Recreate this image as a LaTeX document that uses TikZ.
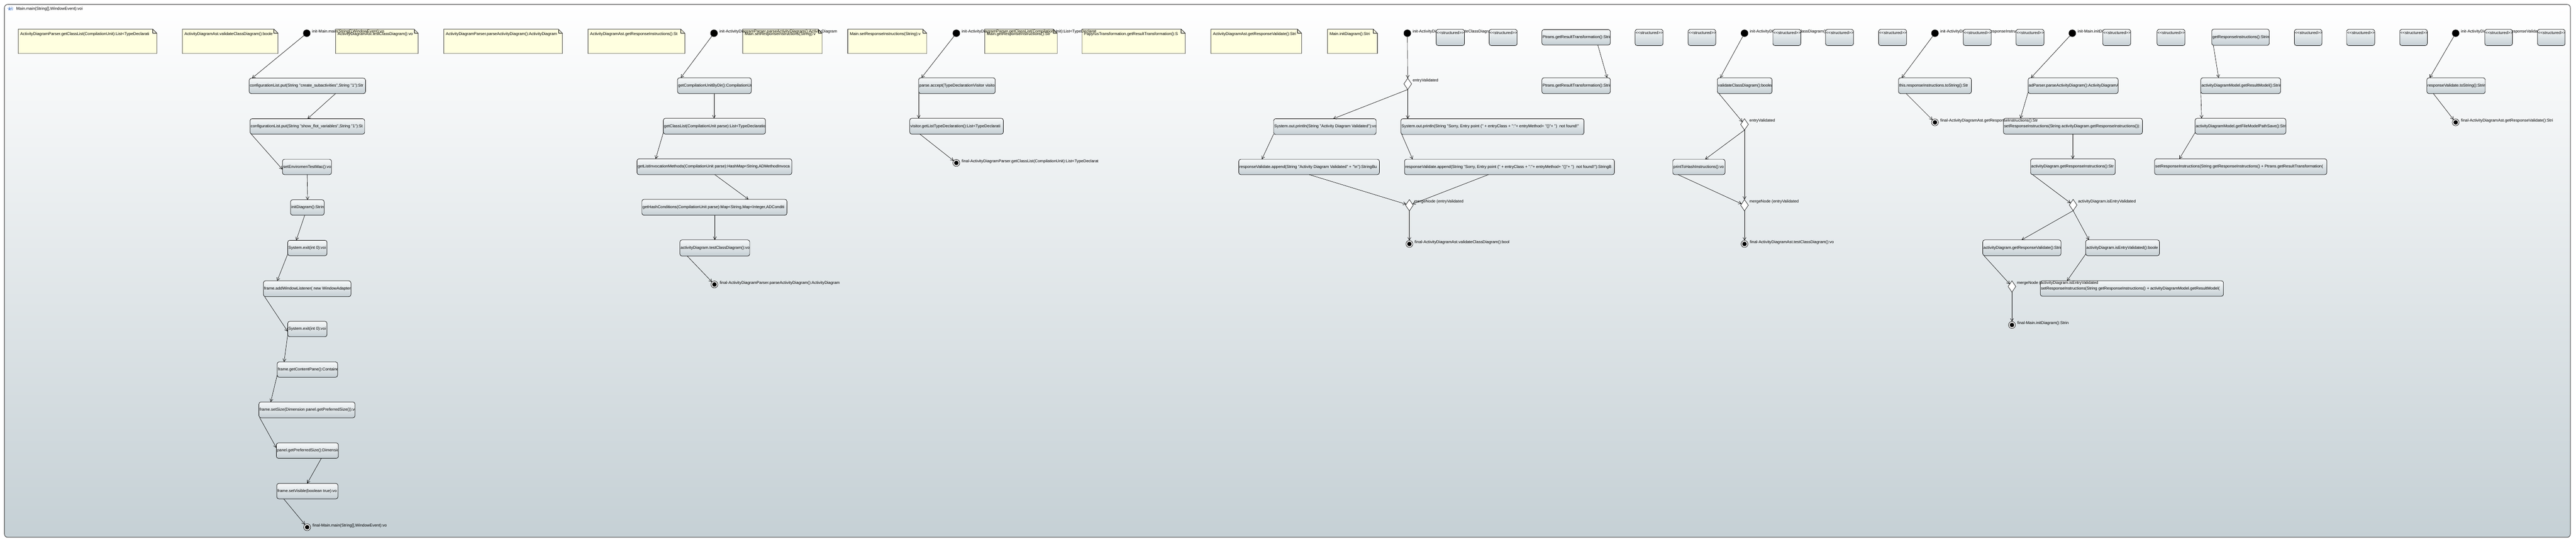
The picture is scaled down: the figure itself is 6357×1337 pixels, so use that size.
\documentclass[tikz,border=0pt]{standalone}
\usepackage{fontspec}
\newfontfamily\uifont{Liberation Sans}
\usetikzlibrary{shapes.geometric,arrows.meta,calc}
\definecolor{bgbot}{HTML}{C5D0D5}
\definecolor{boxtop}{HTML}{F7F9FA}
\definecolor{boxbot}{HTML}{C4CED3}
\definecolor{notefill}{HTML}{FFFFE0}
\definecolor{framecol}{HTML}{3C3C3C}
\definecolor{iconblue}{HTML}{3A6FC4}
\tikzset{
  abox/.style={rectangle, rounded corners=5pt, draw=black, line width=0.9pt, top color=boxtop, bottom color=boxbot, inner sep=0pt, outer sep=0pt},
  btext/.style={font=\uifont\fontsize{10}{12}\selectfont, inner sep=1.5pt, text=black},
  lbl/.style={font=\uifont\fontsize{10}{12}\selectfont, inner sep=0pt, text=black, anchor=west},
  initsty/.style={circle, fill=black, minimum size=18pt, inner sep=0pt, outer sep=0pt},
  finalsty/.style={circle, draw=black, line width=0.9pt, fill=white, minimum size=17pt, inner sep=0pt, outer sep=0pt, path picture={\fill[black] (path picture bounding box.center) circle (5.5pt);}},
  decsty/.style={diamond, draw=black, line width=0.8pt, fill=white, minimum width=19pt, minimum height=28pt, inner sep=0pt, outer sep=0pt},
  flow/.style={draw=black, line width=0.8pt, -{Straight Barb[length=7pt,width=8pt]}},
  notesty/.style={draw=black, line width=0.8pt, fill=notefill},
}
\newcommand{\actbox}[6]{%
  \node[abox, minimum width={(#4-#2)*1pt}, minimum height={(#5-#3)*1pt}] (#1) at ({(#2+#4)/2},{(#3+#5)/2}) {};
  \begin{scope}
    \clip ($(#1.south west)+(1,-1)$) rectangle ($(#1.north east)+(-1,1)$);
    \node[btext, anchor=west] at (#1.west) {#6};
  \end{scope}}
\newcommand{\strbox}[3]{%
  \node[abox, minimum width={(#3-#2)*1pt}, minimum height=40pt] (#1) at ({(#2+#3)/2},92.5) {};
  \begin{scope}
    \clip ($(#1.south west)+(1,-1)$) rectangle ($(#1.north east)+(-1,1)$);
    \node[btext, anchor=west, inner sep=1pt] at ($(#1.north west)+(0,8)$) {<<structured>>};
  \end{scope}}
\newcommand{\anote}[6]{%
  \draw[notesty] (#2,#3) -- (#4-10,#3) -- (#4,#3+10) -- (#4,#5) -- (#2,#5) -- cycle;
  \draw[line width=0.8pt] (#4-10,#3) -- (#4-10,#3+10) -- (#4,#3+10);
  \begin{scope}
    \clip (#2,#3) rectangle (#4-10,#5);
    \node[btext, anchor=west] (#1) at (#2+3.5,#3+12) {#6};
  \end{scope}}
\begin{document}
\begin{tikzpicture}[x=1pt,y=-1pt]
\useasboundingbox (0,0) rectangle (6357,1337);
% frame
\node[draw=framecol, line width=1.2pt, rounded corners=8pt, top color=white, bottom color=bgbot, minimum width=6332pt, minimum height=1315pt, inner sep=0pt, outer sep=0pt] (frame) at (3177,668.5) {};
\node[draw=iconblue, densely dashed, line width=0.6pt, rounded corners=2pt, minimum width=12pt, minimum height=7.5pt, inner sep=0pt] (icon) at (26,21.3) {};
\draw[iconblue, line width=0.6pt] (21.8,19.6) rectangle (25,23);
\draw[iconblue, line width=0.6pt] (28.6,21.3) circle (1.8);
\node[btext, anchor=west] (title) at (38.5,22.7) {Main.main(String[],WindowEvent):voi};
% notes
\anote{n1}{45}{72}{387}{132}{ActivityDiagramParser.getClassList(CompilationUnit):List<TypeDeclarati}
\anote{n2}{450}{72}{686}{132}{ActivityDiagramAst.validateClassDiagram():boole}
\anote{n3}{828}{72}{1032}{132}{ActivityDiagramAst.testClassDiagram():vo}
\anote{n4}{1095}{72}{1388}{132}{ActivityDiagramParser.parseActivityDiagram():ActivityDiagram}
\anote{n5}{1451}{72}{1690}{132}{ActivityDiagramAst.getResponseInstructions():St}
\anote{n6}{1833}{72}{2029}{132}{Main.setResponseInstructions(String):v}
\anote{n7}{2092}{72}{2287}{132}{Main.setResponseInstructions(String):v}
\anote{n8}{2430}{72}{2609}{132}{Main.getResponseInstructions():Str}
\anote{n9}{2670}{72}{2925}{132}{PapyrusTransformation.getResultTransformation():S}
\anote{n10}{2988}{72}{3212}{132}{ActivityDiagramAst.getResponseValidate():Stri}
\anote{n11}{3276}{72}{3399}{132}{Main.initDiagram():Stri}
% activity boxes: Main.main
\actbox{b1}{615}{193}{902}{231}{configurationList.put(String "create\_subactivities",String "1"):Str}
\actbox{b2}{617}{293}{900}{331}{configurationList.put(String "show\_flot\_variables",String "1"):St}
\actbox{b3}{697}{393}{818}{431}{setEnviromenTestMac():vo}
\actbox{b4}{717}{493}{800}{531}{initDiagram():Strin}
\actbox{b5}{710}{593}{807}{631}{System.exit(int 0):voi}
\actbox{b6}{650}{693}{866}{732}{frame.addWindowListener( new WindowAdapter}
\actbox{b7}{710}{793}{807}{831}{System.exit(int 0):voi}
\actbox{b8}{684}{893}{833}{931}{frame.getContentPane():Containe}
\actbox{b9}{639}{992}{876}{1031}{frame.setSize(Dimension panel.getPreferredSize()):vo}
\actbox{b10}{682}{1093}{835}{1131}{panel.getPreferredSize():Dimensio}
\actbox{b11}{683}{1193}{834}{1231}{frame.setVisible(boolean true):vo}
% parseActivityDiagram
\actbox{pb1}{1672}{192}{1854}{231}{getCompilationUnitByDir():CompilationUn}
\actbox{pb2}{1637}{292}{1889}{331}{getClassList(CompilationUnit parse):List<TypeDeclaratio}
\actbox{pb3}{1572}{392}{1954}{431}{getListInvocationMethods(CompilationUnit parse):HashMap<String,ADMethodInvoca}
\actbox{pb4}{1584}{492}{1942}{531}{getHashConditions(CompilationUnit parse):Map<String,Map<Integer,ADConditi}
\actbox{pb5}{1678}{592}{1850}{632}{activityDiagram.testClassDiagram():vo}
% getClassList
\actbox{qb1}{2267}{192}{2456}{231}{parse.accept(TypeDeclarationVisitor visito}
\actbox{qb2}{2245}{292}{2476}{331}{visitor.getListTypeDeclaration():List<TypeDeclarati}
% validateClassDiagram
\actbox{v1}{3143}{293}{3396}{332}{System.out.println(String "Activity Diagram Validated"):vo}
\actbox{v2}{3457}{293}{3909}{332}{System.out.println(String "Sorry, Entry point (" + entryClass + ":"+ entryMethod+ "()"+ ")\ \ not found!"}
\actbox{v3}{3057}{393}{3404}{431}{responseValidate.append(String "Activity Diagram Validated" + "\textbackslash n"):StringBu}
\actbox{v4}{3466}{393}{3984}{431}{responseValidate.append(String "Sorry, Entry point (" + entryClass + ":"+ entryMethod+ "()"+ ")\ \ not found!"):StringB}
% Ptrans / testClassDiagram / getResponseInstructions
\actbox{p1}{3805}{73}{3974}{111}{Ptrans.getResultTransformation():Strin}
\actbox{p2}{3805}{192}{3974}{231}{Ptrans.getResultTransformation():Strin}
\actbox{t1}{4238}{192}{4373}{231}{validateClassDiagram():boolea}
\actbox{t2}{4128}{393}{4257}{431}{printToHashInstructions():vo}
\actbox{r1}{4685}{192}{4865}{231}{this.responseInstructions.toString():Str}
% initDiagram
\actbox{a1}{5005}{192}{5227}{231}{adParser.parseActivityDiagram():ActivityDiagramA}
\actbox{a2}{4944}{292}{5287}{331}{setResponseInstructions(String activityDiagram.getResponseInstructions()):}
\actbox{a3}{5011}{392}{5220}{431}{activityDiagram.getResponseInstructions():Str}
\actbox{c1}{4893}{592}{5086}{631}{activityDiagram.getResponseValidate():Strin}
\actbox{c2}{5147}{592}{5329}{631}{activityDiagram.isEntryValidated():boole}
\actbox{e1}{5035}{693}{5487}{731}{setResponseInstructions(String getResponseInstructions() + activityDiagramModel.getResultModel(}
% right part
\actbox{g1}{5458}{72}{5600}{112}{getResponseInstructions():Strin}
\actbox{g2}{5431}{192}{5628}{231}{activityDiagramModel.getResultModel():Strin}
\actbox{g3}{5417}{292}{5641}{331}{activityDiagramModel.getFileModelPathSave():Strin}
\actbox{bb}{5317}{392}{5742}{431}{setResponseInstructions(String getResponseInstructions() + Ptrans.getResultTransformation(}
\actbox{h1}{5989}{192}{6133}{231}{responseValidate.toString():Strin}
% initial, final, decision nodes
\node[initsty] (i1) at (757,82) {};
\node[initsty] (i2) at (1762,82) {};
\node[initsty] (i3) at (2360,82) {};
\node[initsty] (i4) at (3473,82) {};
\node[initsty] (i5) at (4305,82) {};
\node[initsty] (i6) at (4775,82) {};
\node[initsty] (i7) at (5114,82) {};
\node[initsty] (i8) at (6060,82) {};
\node[finalsty] (f1) at (758,1301) {};
\node[finalsty] (f2) at (1763,702) {};
\node[finalsty] (f3) at (2360,402) {};
\node[finalsty] (f4) at (3478,602) {};
\node[finalsty] (f5) at (4305,602) {};
\node[finalsty] (f6) at (4775,302) {};
\node[finalsty] (f7) at (4965,802) {};
\node[finalsty] (f8) at (6060,302) {};
\node[decsty] (d1) at (3474,207) {};
\node[decsty] (m1) at (3478,506.5) {};
\node[decsty] (d2) at (4305,307) {};
\node[decsty] (m2) at (4305,506.5) {};
\node[decsty] (d3) at (5116,506) {};
\node[decsty] (m3) at (4965,707) {};
% connectors: Main.main
\draw[flow] (i1) -- ($(b1.north west)+(7,0)$);
\draw[flow] ($(b1.north west)+(213,38)$) -- ($(b2.north west)+(142,0)$);
\draw[flow] ($(b2.north west)+(3,38)$) -- ($(b3.north west)+(0,25)$);
\draw[flow] ($(b3.north west)+(61,38)$) -- ($(b4.north west)+(42,0)$);
\draw[flow] ($(b4.north west)+(35,38)$) -- ($(b5.north west)+(21,0)$);
\draw[flow] ($(b5.north west)+(0,34)$) -- ($(b6.north west)+(34,0)$);
\draw[flow] ($(b6.north west)+(3,39)$) -- ($(b7.north west)+(0,25)$);
\draw[flow] ($(b7.north west)+(0,33)$) -- ($(b8.north west)+(17,0)$);
\draw[flow] ($(b8.north west)+(0,33)$) -- ($(b9.north west)+(29,0)$);
\draw[flow] ($(b9.north west)+(2,39)$) -- ($(b10.north west)+(0,12)$);
\draw[flow] ($(b10.north west)+(111,38)$) -- ($(b11.north west)+(75,0)$);
\draw[flow] ($(b11.north west)+(17,38)$) -- (f1);
% parseActivityDiagram
\draw[flow] (i2) -- ($(pb1.north west)+(8,0)$);
\draw[flow] ($(pb1.north west)+(90,39)$) -- ($(pb2.north west)+(125,0)$);
\draw[flow] ($(pb2.north west)+(0,35)$) -- ($(pb3.north west)+(46,0)$);
\draw[flow] ($(pb3.north west)+(192,39)$) -- ($(pb4.north west)+(263,0)$);
\draw[flow] ($(pb4.north west)+(180,39)$) -- ($(pb5.north west)+(86,0)$);
\draw[flow] ($(pb5.north west)+(18,40)$) -- (f2);
% getClassList
\draw[flow] (i3) -- ($(qb1.north west)+(7,0)$);
\draw[flow] ($(qb1.north west)+(0,35)$) -- ($(qb2.north west)+(22,0)$);
\draw[flow] ($(qb2.north west)+(25,39)$) -- (f3);
% validateClassDiagram
\draw[flow] (i4) -- (d1);
\draw[flow] (d1.south) -- ($(v1.north west)+(147,0)$);
\draw[flow] (d1.south) -- ($(v2.north west)+(17,0)$);
\draw[flow] ($(v1.north west)+(0,38)$) -- ($(v3.north west)+(57,0)$);
\draw[flow] ($(v2.north west)+(2,38)$) -- ($(v4.north west)+(20,0)$);
\draw[flow] ($(v3.north west)+(174,38)$) -- (m1);
\draw[flow] ($(v4.north west)+(207,38)$) -- (m1);
\draw[flow] (m1) -- (f4);
% Ptrans, testClassDiagram, getResponseInstructions
\draw[flow] ($(p1.north west)+(138,38)$) -- ($(p2.north west)+(161,0)$);
\draw[flow] (i5) -- ($(t1.north west)+(7,0)$);
\draw[flow] ($(t1.north west)+(4,39)$) -- (d2);
\draw[flow] (d2.south) -- ($(t2.north west)+(80,0)$);
\draw[flow] (d2.south) -- (m2.north);
\draw[flow] ($(t2.north west)+(13,38)$) -- (m2);
\draw[flow] (m2) -- (f5);
\draw[flow] (i6) -- ($(r1.north west)+(8,0)$);
\draw[flow] ($(r1.north west)+(19,39)$) -- (f6);
% initDiagram
\draw[flow] (i7) -- ($(a1.north west)+(7,0)$);
\draw[flow] ($(a1.north west)+(0,35)$) -- ($(a2.north west)+(42,0)$);
\draw[flow] ($(a2.north west)+(171,39)$) -- ($(a3.north west)+(104,0)$);
\draw[flow] ($(a3.north west)+(5,39)$) -- (d3);
\draw[flow] (d3.south) -- ($(c1.north west)+(96,0)$);
\draw[flow] (d3.south) -- ($(c2.north west)+(8,0)$);
\draw[flow] ($(c1.north west)+(3,39)$) -- (m3);
\draw[flow] ($(c2.north west)+(0,35)$) -- ($(e1.north west)+(66,0)$);
\draw[flow] (m3) -- (f7);
% right part
\draw[flow] ($(g1.north west)+(4,40)$) -- ($(g2.north west)+(44,0)$);
\draw[flow] ($(g2.north west)+(0,35)$) -- ($(g3.north west)+(16,0)$);
\draw[flow] ($(g3.north west)+(0,35)$) -- ($(bb.north west)+(61,0)$);
\draw[flow] (i8) -- ($(h1.north west)+(7,0)$);
\draw[flow] ($(h1.north west)+(16,39)$) -- (f8);
% labels
\node[lbl] (i1l) at ($(i1)+(13,-4)$) {init-Main.main(String[],WindowEvent):vo};
\node[lbl] (i2l) at ($(i2)+(13,-4)$) {init-ActivityDiagramParser.parseActivityDiagram():ActivityDiagram};
\node[lbl] (i3l) at ($(i3)+(13,-4)$) {init-ActivityDiagramParser.getClassList(CompilationUnit):List<TypeDeclarat};
\node[lbl] (i4l) at ($(i4)+(13,-4)$) {init-ActivityDiagramAst.validateClassDiagram():bool};
\node[lbl] (i5l) at ($(i5)+(13,-4)$) {init-ActivityDiagramAst.testClassDiagram():vo};
\node[lbl] (i6l) at ($(i6)+(13,-4)$) {init-ActivityDiagramAst.getResponseInstructions():Str};
\node[lbl] (i7l) at ($(i7)+(13,-4)$) {init-Main.initDiagram():Strin};
\node[lbl] (i8l) at ($(i8)+(13,-4)$) {init-ActivityDiagramAst.getResponseValidate():Stri};
\node[lbl] (f1l) at ($(f1)+(13,-4)$) {final-Main.main(String[],WindowEvent):vo};
\node[lbl] (f2l) at ($(f2)+(13,-4)$) {final-ActivityDiagramParser.parseActivityDiagram():ActivityDiagram};
\node[lbl] (f3l) at ($(f3)+(13,-4)$) {final-ActivityDiagramParser.getClassList(CompilationUnit):List<TypeDeclarat};
\node[lbl] (f4l) at ($(f4)+(13,-4)$) {final-ActivityDiagramAst.validateClassDiagram():bool};
\node[lbl] (f5l) at ($(f5)+(13,-4)$) {final-ActivityDiagramAst.testClassDiagram():vo};
\node[lbl] (f6l) at ($(f6)+(13,-4)$) {final-ActivityDiagramAst.getResponseInstructions():Str};
\node[lbl] (f7l) at ($(f7)+(13,-4)$) {final-Main.initDiagram():Strin};
\node[lbl] (f8l) at ($(f8)+(13,-4)$) {final-ActivityDiagramAst.getResponseValidate():Stri};
\node[lbl] (d1l) at ($(d1)+(12,-8.5)$) {entryValidated};
\node[lbl] (m1l) at ($(m1)+(12,-8.5)$) {mergeNode (entryValidated};
\node[lbl] (d2l) at ($(d2)+(12,-8.5)$) {entryValidated};
\node[lbl] (m2l) at ($(m2)+(12,-8.5)$) {mergeNode (entryValidated};
\node[lbl] (d3l) at ($(d3)+(12,-8.5)$) {activityDiagram.isEntryValidated};
\node[lbl] (m3l) at ($(m3)+(12,-8.5)$) {mergeNode (activityDiagram.isEntryValidated};
% structured boxes
\strbox{s1}{3544}{3614}
\strbox{s2}{3675}{3744}
\strbox{s3}{4035}{4104}
\strbox{s4}{4166}{4234}
\strbox{s5}{4375}{4444}
\strbox{s6}{4505}{4574}
\strbox{s7}{4636}{4705}
\strbox{s8}{4845}{4914}
\strbox{s9}{4975}{5044}
\strbox{s10}{5189}{5258}
\strbox{s11}{5323}{5392}
\strbox{s12}{5662}{5730}
\strbox{s13}{5791}{5860}
\strbox{s14}{5922}{5990}
\strbox{s15}{6132}{6200}
\strbox{s16}{6262}{6330}
\end{tikzpicture}
\end{document}
